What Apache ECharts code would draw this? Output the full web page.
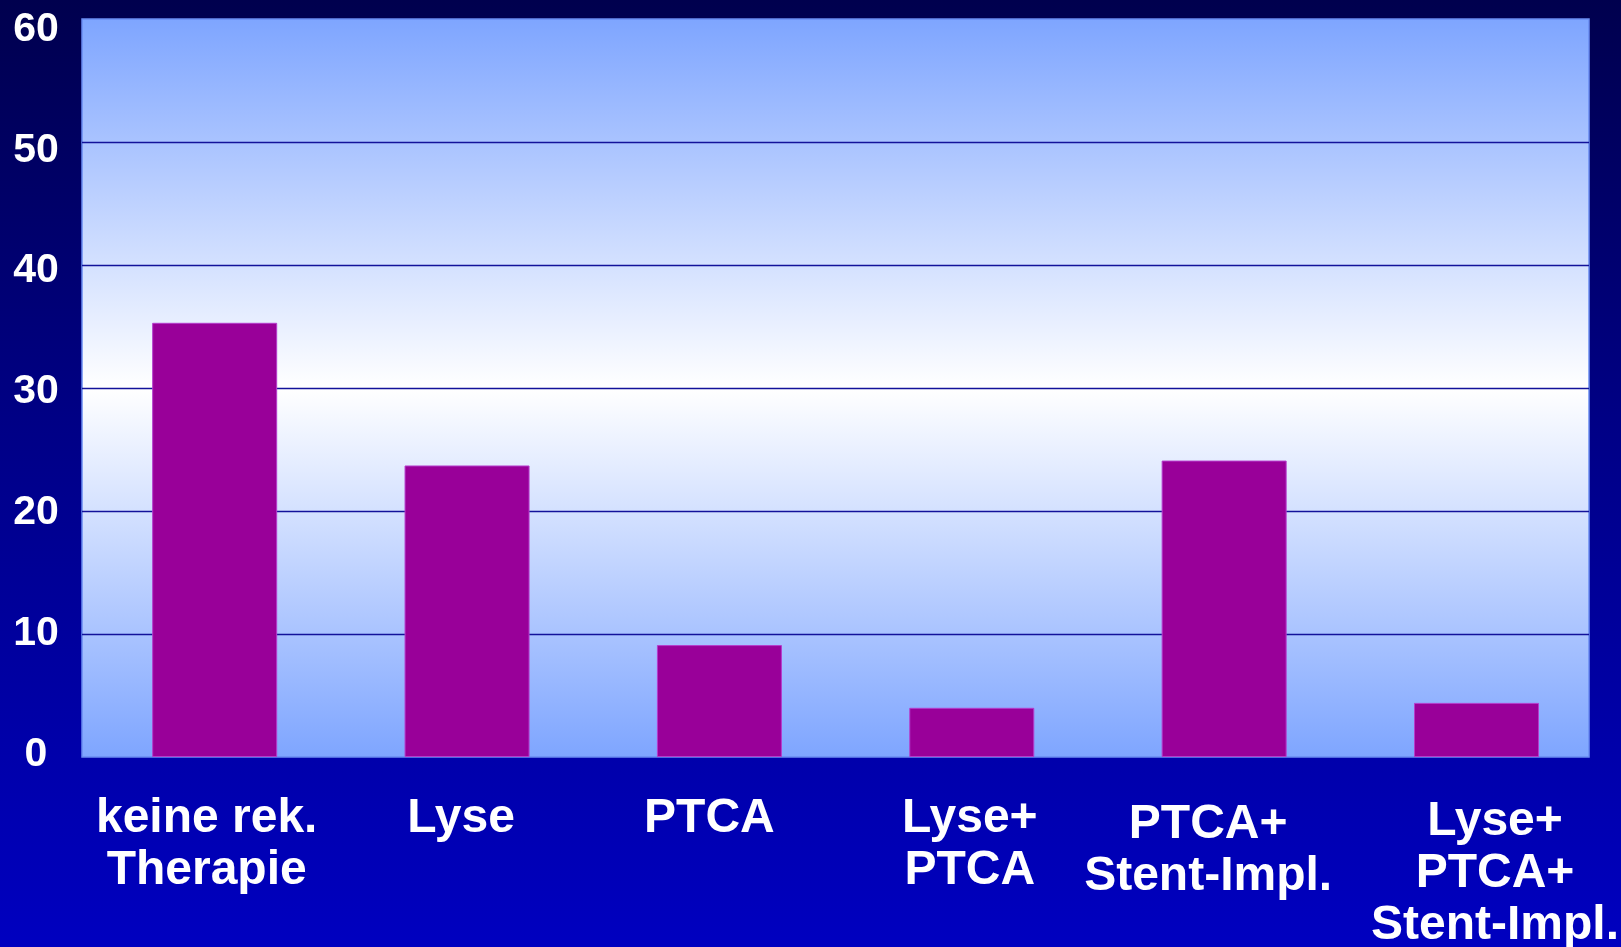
<!DOCTYPE html>
<html>
<head>
<meta charset="utf-8">
<script src="https://cdn.jsdelivr.net/npm/echarts@6/dist/echarts.min.js"></script>
<style>
  html, body { margin: 0; padding: 0; }
  body { width: 1621px; height: 947px; overflow: hidden;
         background: linear-gradient(to bottom, #00004e 0%, #000086 45%, #0000c0 100%); }
  #chart { width: 1621px; height: 947px; }
</style>
</head>
<body>
<div id="chart"></div>
<script>
// Treatment groups and their share (%)
const categories = ['keine rek.\nTherapie', 'Lyse', 'PTCA', 'Lyse+\nPTCA', 'PTCA+\nStent-Impl.', 'Lyse+\nPTCA+\nStent-Impl.'];
const values = [35.3, 23.7, 9.1, 4.0, 24.1, 4.4];
const yTicks = [0, 10, 20, 30, 40, 50, 60];

// per-label nudges [top, right, bottom, left] so lines sit where they read best
const labelPads = [[0, 16, 0, 0], [0, 12, 0, 0], [0, 20, 0, 0], [0, 4, 0, 0], [6, 32, 0, 0], [3, 0, 0, 37]];

const chart = echarts.init(document.getElementById('chart'), null, { renderer: 'canvas' });

const labelFont = { fontFamily: 'Liberation Sans, Arial, sans-serif', fontWeight: 'bold', color: '#ffffff' };
const yMin = yTicks[0], yMax = yTicks[yTicks.length - 1], yStep = yTicks[1] - yTicks[0];

chart.setOption({
  backgroundColor: 'transparent',
  animation: false,
  grid: [
    { // plot panel with gradient fill and gridlines
      left: 82, right: 32, top: 19, bottom: 190,
      outerBoundsMode: 'none',
      show: true,
      borderColor: '#6a8cf2', borderWidth: 1.5,
      backgroundColor: new echarts.graphic.LinearGradient(0, 0, 0, 1, [
        { offset: 0, color: '#7ea5ff' },
        { offset: 0.5, color: '#ffffff' },
        { offset: 1, color: '#7ea5ff' }
      ])
    },
    { left: 88.5, right: 18.3, top: 19, bottom: 190, outerBoundsMode: 'none' },   // bars
    { left: 82, right: 32, top: 29.5, bottom: 192.5, outerBoundsMode: 'none' }    // value labels
  ],
  xAxis: [
    { gridIndex: 0, type: 'category', data: categories, show: false },
    {
      gridIndex: 1, type: 'category',
      data: categories.map((c, i) => ({ value: c, textStyle: { padding: labelPads[i] } })),
      axisLine: { show: false }, axisTick: { show: false },
      axisLabel: Object.assign({ interval: 0, fontSize: 48, lineHeight: 52, margin: 36 }, labelFont)
    },
    { gridIndex: 2, type: 'category', data: categories, show: false }
  ],
  yAxis: [
    {
      gridIndex: 0, type: 'value', min: yMin, max: yMax, interval: yStep,
      axisLine: { show: false }, axisTick: { show: false }, axisLabel: { show: false },
      splitLine: { show: true, showMinLine: false, showMaxLine: false,
                   lineStyle: { color: '#12129a', width: 1.3 } }
    },
    { gridIndex: 1, type: 'value', min: yMin, max: yMax, interval: yStep, show: false },
    {
      gridIndex: 2, type: 'value', min: yMin, max: yMax, interval: yStep,
      axisLine: { show: false }, axisTick: { show: false }, splitLine: { show: false },
      axisLabel: Object.assign({ fontSize: 41, align: 'center', margin: 46 }, labelFont)
    }
  ],
  series: [{
    type: 'bar',
    xAxisIndex: 1, yAxisIndex: 1,
    data: values,
    barWidth: 125,
    itemStyle: { color: '#990099', borderColor: '#b63ccc', borderWidth: 1 }
  }]
});
</script>
</body>
</html>
